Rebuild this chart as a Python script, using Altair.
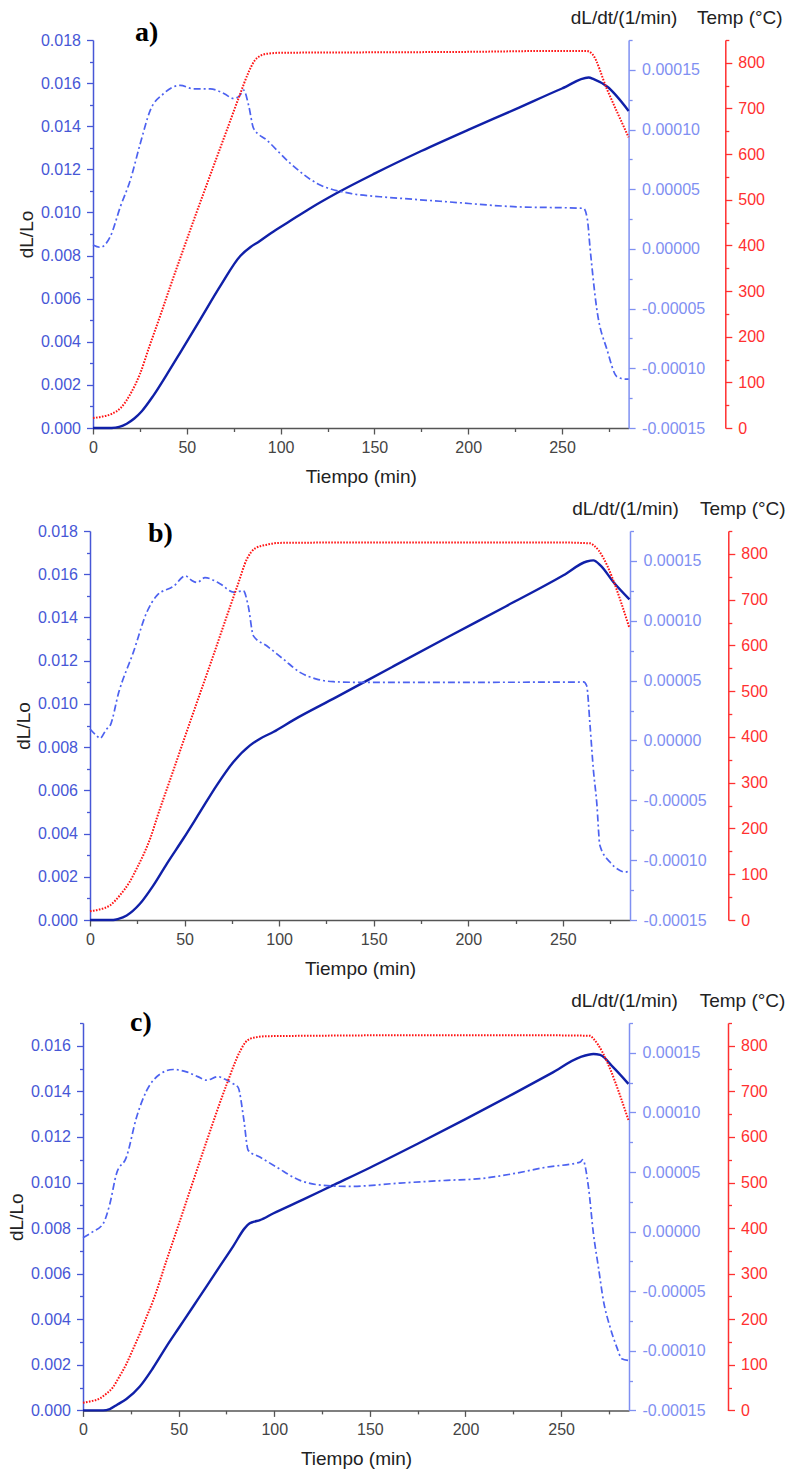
import altair as alt
import pandas as pd

# ---------------- data ----------------
X_MAX = 285.5
X_TICKS = [0, 25, 50, 75, 100, 125, 150, 175, 200, 225, 250, 275]

DL_TICKS = [round(i * 0.001, 3) for i in range(0, 19)]
RATE_TICKS = [round(-0.00015 + i * 0.000025, 6) for i in range(0, 14)]
TEMP_TICKS = [i * 50 for i in range(0, 18)]

# ---- panel a ----
a_dl_t = [0, 10, 14, 18, 22, 26, 32, 39.4, 46.5, 57.2, 67.9, 78.5, 84, 88, 95, 105, 115, 130, 150, 175, 200, 225, 250, 264.2, 266.9, 274, 285.5]
a_dl_v = [0, 0, 0.00005, 0.0002, 0.00044, 0.00078, 0.00148, 0.00249, 0.0035, 0.00504, 0.00659, 0.00798, 0.0084, 0.00862, 0.00905, 0.0096, 0.01015, 0.0109, 0.0118, 0.01285, 0.01383, 0.01478, 0.01575, 0.01626, 0.01618, 0.01584, 0.01471]
a_rate_t = [0, 3.9, 9.2, 14.6, 19.9, 25.2, 30.5, 37.6, 46.5, 53.6, 62.5, 70, 74.9, 78, 80.3, 83, 85.6, 92.7, 105.2, 119.4, 137.2, 153, 163.8, 188.7, 224.2, 261.5, 263.5, 265, 268.6, 274, 279.3, 283.6, 285.5]
a_rate_v = [3.3e-6, 1.4e-6, 1.03e-5, 3.54e-5, 5.77e-5, 8.83e-5, 1.16e-4, 1.30e-4, 1.37e-4, 1.34e-4, 1.34e-4, 1.30e-4, 1.26e-4, 1.28e-4, 1.33e-4, 1.2e-4, 1.01e-4, 9.11e-5, 7.16e-5, 5.49e-5, 4.65e-5, 4.37e-5, 4.24e-5, 3.95e-5, 3.54e-5, 3.4e-5, 2.5e-5, 0, -5.1e-5, -8.44e-5, -1.07e-4, -1.09e-4, -1.09e-4]
a_temp_t = [0, 5, 10, 15, 20, 25, 30, 36, 41, 47, 55, 65, 72, 78, 83, 86, 89, 93, 100, 150, 200, 245, 263, 266, 274, 285.5]
a_temp_v = [22, 25, 31, 45, 75, 118, 178, 248, 308, 378, 470, 582, 660, 727, 780, 804, 815, 820, 822, 823, 824, 826, 826, 820, 742, 637]

# ---- panel b ----
b_dl_t = [0, 12.3, 15, 19.4, 26.4, 33.5, 40.6, 49.3, 58.2, 67, 75.8, 84.6, 89.9, 96.9, 107.5, 130, 160, 190, 220, 250.3, 262.6, 266.1, 270, 276.7, 285.2]
b_dl_v = [0, 0, 0.00005, 0.00021, 0.00075, 0.0016, 0.0026, 0.00376, 0.005, 0.00623, 0.00731, 0.00808, 0.00839, 0.0087, 0.00925, 0.0103, 0.01172, 0.01313, 0.01452, 0.01595, 0.01659, 0.01664, 0.0164, 0.01564, 0.01484]
b_rate_t = [0, 3.5, 5.3, 8.8, 10.6, 15.2, 22.9, 30, 35.3, 44.3, 50.5, 53.5, 56.6, 60.8, 68.7, 75.8, 81.1, 83.7, 86.4, 93.4, 102.2, 111, 119.8, 128.6, 140, 200, 258, 260.9, 262.6, 264.4, 266.1, 267.9, 269.6, 274.9, 280.2, 282.9, 285.5]
b_rate_v = [9.6e-6, 4e-6, 1.8e-6, 9.6e-6, 1.23e-5, 4.02e-5, 7.36e-5, 1.07e-4, 1.21e-4, 1.29e-4, 1.375e-4, 1.34e-4, 1.32e-4, 1.36e-4, 1.31e-4, 1.24e-4, 1.25e-4, 1.12e-4, 8.74e-5, 7.91e-5, 6.8e-5, 5.69e-5, 5.13e-5, 4.91e-5, 4.86e-5, 4.86e-5, 4.88e-5, 4.9e-5, 4.57e-5, 1.2e-5, -2.38e-5, -5.16e-5, -8.78e-5, -1.016e-4, -1.086e-4, -1.1e-4, -1.086e-4]
b_temp_t = [0, 5, 10.6, 16, 21.2, 25, 28.2, 32, 35.3, 44, 51, 58, 65.2, 72, 78, 83, 87.3, 93.4, 100, 150, 200, 246.8, 264.4, 266.5, 285.2]
b_temp_v = [19, 23, 32, 55, 85, 115, 142, 180, 222, 326, 410, 493, 578, 660, 731, 789, 812, 820, 824, 825, 825, 825, 823, 818, 638]

# ---- panel c ----
c_dl_t = [0, 10.5, 14, 18, 22.7, 29.7, 36.6, 43.6, 50.6, 57.6, 64.6, 71.5, 78.5, 84.6, 87, 89, 92.5, 99.4, 115, 130, 150, 175, 200, 225, 245, 260, 266.9, 270.4, 277.3, 285.2]
c_dl_v = [0, 0, 0.00006, 0.00026, 0.0005, 0.00105, 0.00186, 0.0028, 0.00368, 0.00456, 0.00544, 0.00632, 0.0072, 0.008, 0.0082, 0.00827, 0.00835, 0.00864, 0.00925, 0.00985, 0.01065, 0.0117, 0.01278, 0.01389, 0.0148, 0.0155, 0.01564, 0.0156, 0.01505, 0.01433]
c_rate_t = [0, 5.2, 10.5, 14, 17.5, 22.7, 28, 33.2, 40.2, 47.1, 54.1, 60, 64.6, 70.6, 74, 78.5, 81.1, 84, 86.4, 92.5, 101.2, 113.4, 125.6, 139.5, 165.7, 190.2, 207.6, 225, 242.5, 259.9, 261.3, 264.3, 266.9, 269.5, 272.1, 275.6, 279.1, 281.7, 285.2]
c_rate_v = [-5.1e-6, 0, 6.6e-6, 2.3e-5, 4.86e-5, 6.25e-5, 9.6e-5, 1.18e-4, 1.32e-4, 1.36e-4, 1.34e-4, 1.3e-4, 1.27e-4, 1.3e-4, 1.28e-4, 1.24e-4, 1.21e-4, 9.5e-5, 6.81e-5, 6.25e-5, 5.41e-5, 4.3e-5, 3.88e-5, 3.79e-5, 4.07e-5, 4.3e-5, 4.44e-5, 4.86e-5, 5.41e-5, 5.83e-5, 6.03e-5, 3.73e-5, -1.8e-6, -2.98e-5, -5.77e-5, -8.01e-5, -9.69e-5, -1.066e-4, -1.08e-4]
c_temp_t = [0, 4, 8.7, 12, 15.7, 19, 22.7, 26, 29.7, 33, 36.6, 43.6, 50.6, 54.1, 64.6, 75, 82, 85, 87.2, 91, 96, 120, 160, 200, 240, 265.2, 267, 285.2]
c_temp_v = [17, 20, 26, 36, 51, 74, 102, 133, 168, 203, 240, 328, 415, 459, 590, 714, 787, 808, 815, 819, 821, 822, 823, 823, 823, 822, 815, 637]

# ---------------- styling ----------------
DL_COLOR = "#1020a8"
RATE_COLOR = "#4d62f0"
TEMP_COLOR = "#ff1414"
LEFT_AX = "#4757d6"
RATE_AX = "#7f90f2"
TEMP_AX = "#ff3030"
FONT = "Liberation Sans"


def df(t, v):
    return pd.DataFrame({"t": t, "v": v})


def panel(dl, rate, temp, dl_max, label, lx, ly, temp_offset, W, H):
    x_enc = alt.X(
        "t:Q",
        scale=alt.Scale(domain=[0, X_MAX], nice=False, zero=False),
        axis=alt.Axis(
            values=X_TICKS,
            labelExpr="datum.value % 50 == 0 ? datum.label : ''",
            tickSize={"condition": {"test": "datum.value % 50 != 0", "value": 3.5}, "value": 6},
            labelPadding=5,
            labelColor="#444444",
            labelFontSize=16,
            domainColor="#555555",
            tickColor="#555555",
            domainWidth=1.5,
            tickWidth=1.3,
            title="Tiempo (min)",
            titleFontSize=19,
            titleColor="#222222",
            titleFontWeight="normal",
            titleY=48,
            titleBaseline="middle",
            labelFlush=False,
            labelOverlap=False,
            grid=False,
        ),
    )
    dl_axis = alt.Axis(
        orient="left",
        values=[v for v in DL_TICKS if v <= dl_max + 1e-9],
        labelExpr="abs(round(datum.value*1000)) % 2 == 0 ? format(datum.value, '.3f') : ''",
        tickSize={"condition": {"test": "abs(round(datum.value*1000)) % 2 == 1", "value": 3.5}, "value": 6.5},
        labelPadding=6,
        labelColor=LEFT_AX,
        labelFontSize=16,
        domainColor=LEFT_AX,
        tickColor=LEFT_AX,
        domainWidth=1.5,
        tickWidth=1.3,
        title="dL/Lo",
        titleFontSize=19,
        titleColor="#222222",
        titleFontWeight="normal",
        titleAngle=270,
        titleX=-61,
        titleY=H / 2,
        titleAlign="center",
        titleBaseline="alphabetic",
        labelFlush=False,
        labelOverlap=False,
        grid=False,
    )
    rate_axis = alt.Axis(
        orient="right",
        values=RATE_TICKS,
        labelExpr="abs(round(datum.value*40000)) % 2 == 0 ? replace(format(datum.value, '.5f'), '\u2212', '-') : ''",
        tickSize={"condition": {"test": "abs(round(datum.value*40000)) % 2 == 1", "value": 3.5}, "value": 6.5},
        labelPadding=6.5,
        labelColor=RATE_AX,
        labelFontSize=16,
        domainColor=RATE_AX,
        tickColor=RATE_AX,
        domainWidth=1.5,
        tickWidth=1.3,
        title="dL/dt/(1/min)",
        titleFontSize=19,
        titleColor="#222222",
        titleFontWeight="normal",
        titleAngle=0,
        titleX=-5,
        titleY=-23,
        titleAlign="center",
        titleBaseline="middle",
        labelFlush=False,
        labelOverlap=False,
        grid=False,
    )
    temp_axis = alt.Axis(
        orient="right",
        offset=temp_offset,
        values=TEMP_TICKS,
        labelExpr="datum.value % 100 == 0 ? datum.label : ''",
        tickSize={"condition": {"test": "datum.value % 100 != 0", "value": 3.5}, "value": 6.5},
        labelPadding=6,
        labelColor=TEMP_AX,
        labelFontSize=16,
        domainColor=TEMP_AX,
        tickColor=TEMP_AX,
        domainWidth=1.5,
        tickWidth=1.3,
        title="Temp (\u00b0C)",
        titleFontSize=19,
        titleColor="#222222",
        titleFontWeight="normal",
        titleAngle=0,
        titleX=14,
        titleY=-23,
        titleAlign="center",
        titleBaseline="middle",
        labelFlush=False,
        labelOverlap=False,
        grid=False,
    )

    l_dl = alt.Chart(df(*dl)).mark_line(color=DL_COLOR, strokeWidth=2.4, interpolate="monotone").encode(
        x=x_enc,
        y=alt.Y("v:Q", scale=alt.Scale(domain=[0, dl_max], nice=False, zero=False), axis=dl_axis),
    )
    l_rate = alt.Chart(df(*rate)).mark_line(
        color=RATE_COLOR, strokeWidth=1.7, strokeDash=[7, 3, 2, 3], interpolate="monotone"
    ).encode(
        x=x_enc,
        y=alt.Y("v:Q", scale=alt.Scale(domain=[-0.00015, 0.000175], nice=False, zero=False), axis=rate_axis),
    )
    l_temp = alt.Chart(df(*temp)).mark_line(
        color=TEMP_COLOR, strokeWidth=2, strokeDash=[1.6, 1.4], interpolate="monotone"
    ).encode(
        x=x_enc,
        y=alt.Y("v:Q", scale=alt.Scale(domain=[0, 850], nice=False, zero=False), axis=temp_axis),
    )
    l_lab = alt.Chart(pd.DataFrame({"s": [label]})).mark_text(
        font="Liberation Serif", fontSize=28, fontWeight="bold", align="left", baseline="alphabetic", color="black"
    ).encode(x=alt.value(lx), y=alt.value(ly), text="s:N")

    return alt.layer(l_dl, l_rate, l_temp, l_lab).resolve_scale(y="independent").properties(width=W, height=H)


def spacer(w, h):
    return alt.Chart(pd.DataFrame({"z": [0]})).mark_point(opacity=0).encode(
        x=alt.X("z:Q", axis=None), y=alt.Y("z:Q", axis=None)
    ).properties(width=w, height=h)


pa = panel((a_dl_t, a_dl_v), (a_rate_t, a_rate_v), (a_temp_t, a_temp_v), 0.018, "a)", 42, 1, 96.7, 535.6, 388)
pb = panel((b_dl_t, b_dl_v), (b_rate_t, b_rate_v), (b_temp_t, b_temp_v), 0.018, "b)", 58, 11, 98.3, 540, 389)
pc = panel((c_dl_t, c_dl_v), (c_rate_t, c_rate_v), (c_temp_t, c_temp_v), 0.017, "c)", 47, 8.4, 99, 546, 387.4)

row_a = alt.hconcat(spacer(10.4, 388), pa, spacing=0, bounds="flush")
row_b = alt.hconcat(spacer(7.7, 389), pb, spacing=0, bounds="flush")
row_c = alt.hconcat(spacer(1, 387.4), pc, spacing=0, bounds="flush")

chart = (
    alt.vconcat(row_a, row_b, row_c, spacing=13)
    .configure_view(stroke=None)
    .configure_axis(labelFont=FONT, titleFont=FONT)
    .properties(padding={"left": 7, "top": 8, "right": 2, "bottom": 2}, background="white")
)

chart.save("out.html", embed_options={"renderer": "svg", "actions": False})
